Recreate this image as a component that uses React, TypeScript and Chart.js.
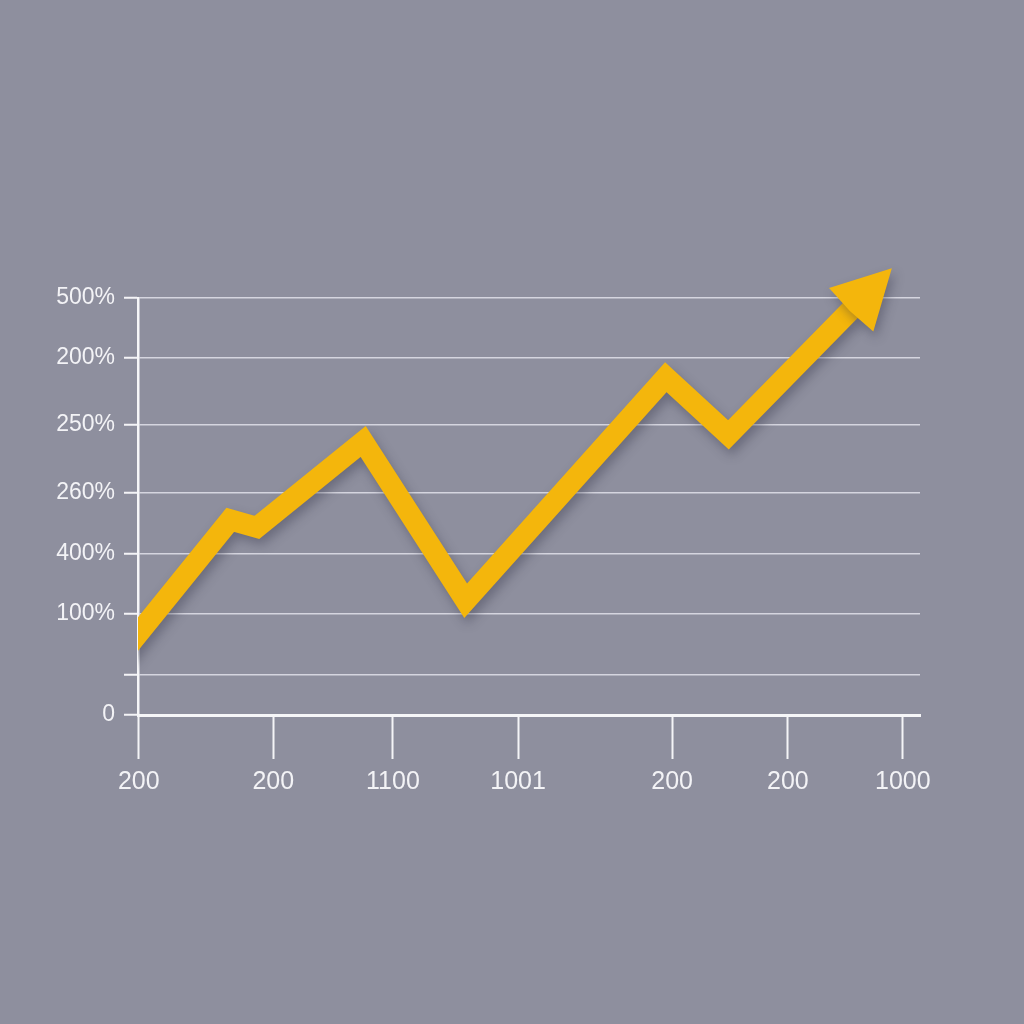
import React, { useEffect, useRef } from "react";
import { Chart, registerables } from "chart.js";

Chart.register(...registerables);

// Tick positions (in axis units) and their printed labels
const xTickValues = [0.1, 17.3, 32.6, 48.6, 68.3, 83.1, 97.8];
const xTickLabels = ["200", "200", "1100", "1001", "200", "200", "1000"];
const yTickValues = [0, 48, 121, 193, 266, 348, 428, 500];
const yTickLabels = ["0", "", "100%", "400%", "260%", "250%", "200%", "500%"];

// Series (x in axis units, y in axis units); last point is the arrow base
const seriesX = [-2, 11.8, 15.2, 28.8, 41.9, 67.5, 75.5, 91.2];
const seriesY = [74, 234, 225, 328, 137, 405, 336, 486];

const BG = "#8e8f9e";
const LINE = "#f4b60c";
const TEXT = "#f3f3f6";
const FONT = "'Liberation Sans', Arial, Helvetica, sans-serif";

const arrowPlugin = {
  id: "arrowHead",
  beforeDatasetsDraw(chart: any) {
    const ctx = chart.ctx;
    ctx.save();
    ctx.shadowColor = "rgba(45,45,65,0.36)";
    ctx.shadowBlur = 11;
    ctx.shadowOffsetX = 3;
    ctx.shadowOffsetY = 6;
  },
  afterDatasetsDraw(chart: any) {
    const ctx = chart.ctx;
    const meta = chart.getDatasetMeta(0);
    const pts = meta.data;
    if (pts.length >= 2) {
      const a = pts[pts.length - 2];
      const b = pts[pts.length - 1];
      const dx = b.x - a.x;
      const dy = b.y - a.y;
      const len = Math.hypot(dx, dy) || 1;
      const ux = dx / len;
      const uy = dy / len;
      const px = -uy;
      const py = ux;
      const headLen = 58;
      const halfW = 31;
      ctx.beginPath();
      ctx.moveTo(b.x + ux * headLen, b.y + uy * headLen);
      ctx.lineTo(b.x + px * halfW, b.y + py * halfW);
      ctx.lineTo(b.x - ux * 2, b.y - uy * 2);
      ctx.lineTo(b.x - px * halfW, b.y - py * halfW);
      ctx.closePath();
      ctx.fillStyle = LINE;
      ctx.fill();
    }
    ctx.restore();
  },
};

export default function App() {
  const ref = useRef<HTMLCanvasElement | null>(null);

  useEffect(() => {
    if (!ref.current) return;
    const data = seriesX.map((x, i) => ({ x, y: seriesY[i] }));
    const chart = new Chart(ref.current, {
      type: "line",
      data: {
        datasets: [
          {
            data,
            borderColor: LINE,
            backgroundColor: LINE,
            borderWidth: 21,
            borderJoinStyle: "miter",
            borderCapStyle: "butt",
            pointRadius: 0,
            pointHoverRadius: 0,
            tension: 0,
            fill: false,
          },
        ],
      },
      options: {
        responsive: false,
        animation: false,
        events: [],
        layout: { padding: { top: 298, right: 104, left: 0, bottom: 0 } },
        plugins: {
          legend: { display: false },
          title: { display: false },
          tooltip: { enabled: false },
        },
        scales: {
          x: {
            type: "linear",
            min: 0,
            max: 100,
            afterFit: (s: any) => {
              s.height = 309;
            },
            afterBuildTicks: (s: any) => {
              s.ticks = xTickValues.map((v) => ({ value: v }));
            },
            grid: {
              drawOnChartArea: false,
              drawTicks: true,
              tickLength: 44,
              tickColor: "#f4f4f7",
              tickWidth: 2,
            },
            border: { display: true, color: "#f6f6f8", width: 3 },
            ticks: {
              autoSkip: false,
              maxRotation: 0,
              padding: 8,
              color: TEXT,
              font: { family: FONT, size: 25 },
              callback: (_v: any, i: number) => xTickLabels[i],
            },
          },
          y: {
            type: "linear",
            min: 0,
            max: 500,
            afterFit: (s: any) => {
              s.width = 138;
            },
            afterBuildTicks: (s: any) => {
              s.ticks = yTickValues.map((v) => ({ value: v }));
            },
            grid: {
              drawOnChartArea: true,
              color: "rgba(226,226,234,0.85)",
              lineWidth: 1.5,
              drawTicks: true,
              tickLength: 14,
              tickColor: "#f4f4f7",
              tickWidth: 2,
            },
            border: { display: true, color: "#f6f6f8", width: 2.5 },
            ticks: {
              autoSkip: false,
              padding: 9,
              color: TEXT,
              font: { family: FONT, size: 23 },
              callback: (_v: any, i: number) => yTickLabels[i],
            },
          },
        },
      },
      plugins: [arrowPlugin],
    });
    return () => chart.destroy();
  }, []);

  return (
    <div
      style={{
        position: "fixed",
        left: 0,
        top: 0,
        width: 1024,
        height: 1024,
        background: BG,
      }}
    >
      <canvas ref={ref} width={1024} height={1024} style={{ display: "block" }} />
    </div>
  );
}
